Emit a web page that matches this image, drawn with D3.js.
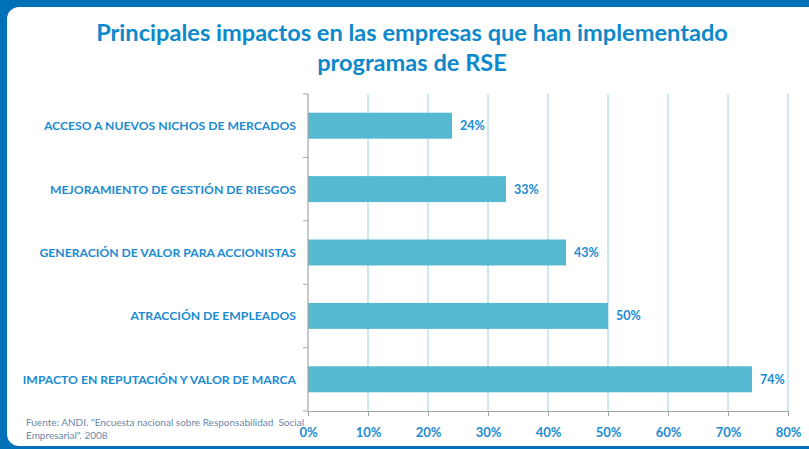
<!DOCTYPE html>
<html>
<head>
<meta charset="utf-8">
<script src="https://cdn.jsdelivr.net/npm/d3@7"></script>
<style>
  body { margin: 0; background: #0070b8; }
  svg { display: block; font-family: Lato, "Open Sans", sans-serif; }
</style>
</head>
<body>
<div id="chart"></div>
<script>
const categories = [
  'ACCESO A NUEVOS NICHOS DE MERCADOS',
  'MEJORAMIENTO DE GESTIÓN DE RIESGOS',
  'GENERACIÓN DE VALOR PARA ACCIONISTAS',
  'ATRACCIÓN DE EMPLEADOS',
  'IMPACTO EN REPUTACIÓN Y VALOR DE MARCA'
];
const values = [0.24, 0.33, 0.43, 0.50, 0.74];
const tickValues = [0, 0.1, 0.2, 0.3, 0.4, 0.5, 0.6, 0.7, 0.8];
const titleLines = ['Principales impactos en las empresas que han implementado', 'programas de RSE'];
const sourceLines = ['Fuente: ANDI. "Encuesta nacional sobre Responsabilidad  Social', 'Empresarial". 2008'];

const width = 809, height = 449;
const margin = {top: 94, right: 21, bottom: 38, left: 308};

const colors = {
  frame: '#0070b8',
  title: '#0d88ca',
  label: '#1b8bd2',
  bar: '#56b9d2',
  grid: '#a9dbe6',
  axis: '#a6a6a6',
  source: '#6a88a8'
};

const svg = d3.select('#chart').append('svg')
  .attr('width', width)
  .attr('height', height);

// blue frame + white rounded panel
svg.append('rect').attr('width', width).attr('height', height).attr('fill', colors.frame);
svg.append('rect')
  .attr('x', 7).attr('y', 7)
  .attr('width', width + 20).attr('height', height - 10)
  .attr('rx', 12)
  .attr('fill', '#fff');

const x = d3.scaleLinear()
  .domain([0, 0.8])
  .range([margin.left, width - margin.right]);

const y = d3.scaleBand()
  .domain(categories)
  .range([margin.top, height - margin.bottom])
  .paddingInner(0.59)
  .paddingOuter(0.295);

// title
svg.append('g').selectAll('text')
  .data(titleLines)
  .enter()
  .append('text')
  .attr('x', 412)
  .attr('y', (d, i) => 41 + i * 30)
  .attr('text-anchor', 'middle')
  .style('font-size', '23.6px')
  .style('font-weight', 'bold')
  .style('fill', colors.title)
  .text(d => d);

// gridlines
svg.append('g').selectAll('line')
  .data(tickValues.slice(1))
  .enter()
  .append('line')
  .attr('x1', d => x(d)).attr('x2', d => x(d))
  .attr('y1', margin.top).attr('y2', height - margin.bottom)
  .style('stroke', colors.grid)
  .style('stroke-width', 1.2);

// bars
svg.append('g').selectAll('rect')
  .data(values)
  .enter()
  .append('rect')
  .attr('x', x(0))
  .attr('y', (d, i) => y(categories[i]))
  .attr('width', d => x(d) - x(0))
  .attr('height', y.bandwidth())
  .style('fill', colors.bar);

// value labels
svg.append('g').selectAll('text')
  .data(values)
  .enter()
  .append('text')
  .attr('x', d => x(d) + 8)
  .attr('y', (d, i) => y(categories[i]) + y.bandwidth() / 2 + 4.5)
  .style('font-size', '12.5px')
  .style('font-weight', 'bold')
  .style('fill', colors.label)
  .text(d => d3.format('.0%')(d));

// y axis: line with ticks at band boundaries
const yAxis = svg.append('g');
const step = y.step();
const boundaries = d3.range(categories.length + 1).map(i => margin.top + i * step);
yAxis.append('line')
  .attr('x1', x(0)).attr('x2', x(0))
  .attr('y1', margin.top).attr('y2', height - margin.bottom)
  .style('stroke', colors.axis)
  .style('stroke-width', 1.2);
yAxis.selectAll('.tick')
  .data(boundaries)
  .enter()
  .append('line')
  .attr('x1', x(0) - 5).attr('x2', x(0))
  .attr('y1', d => d).attr('y2', d => d)
  .style('stroke', colors.axis);
yAxis.selectAll('text')
  .data(categories)
  .enter()
  .append('text')
  .attr('x', x(0) - 12)
  .attr('y', d => y(d) + y.bandwidth() / 2 + 4.5)
  .attr('text-anchor', 'end')
  .style('font-size', '12.2px')
  .style('font-weight', 'bold')
  .style('fill', colors.label)
  .text(d => d);

// x axis
const xAxis = svg.append('g')
  .attr('transform', `translate(0,${height - margin.bottom})`)
  .call(d3.axisBottom(x).tickValues(tickValues).tickFormat(d3.format('.0%')).tickSize(5).tickPadding(12));
xAxis.select('.domain').style('stroke', colors.axis).style('stroke-width', 1.2);
xAxis.selectAll('.tick line').style('stroke', colors.axis);
xAxis.selectAll('.tick text')
  .style('font-family', 'Lato, "Open Sans", sans-serif')
  .style('font-size', '13px')
  .style('font-weight', 'bold')
  .style('fill', colors.label);

// source note
svg.append('g').selectAll('text')
  .data(sourceLines)
  .enter()
  .append('text')
  .attr('x', 26)
  .attr('y', (d, i) => 426 + i * 13)
  .style('font-size', '10px')
  .style('fill', colors.source)
  .style('white-space', 'pre')
  .text(d => d);
</script>
</body>
</html>
